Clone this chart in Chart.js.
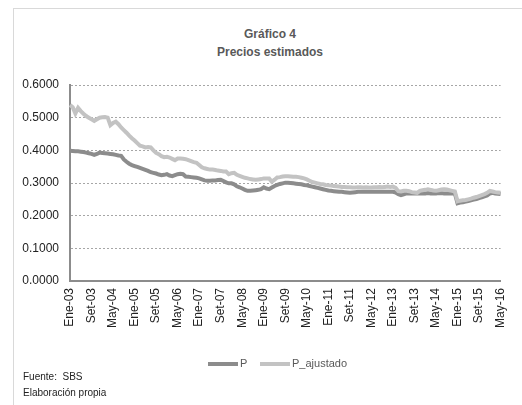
<!DOCTYPE html>
<html>
<head>
<meta charset="utf-8">
<script src="https://cdn.jsdelivr.net/npm/chart.js@4"></script>
<style>
  html, body { margin: 0; padding: 0; background: #fff; }
  body { width: 522px; height: 405px; position: relative; overflow: hidden; font-family: "Liberation Sans", Arial, sans-serif; }
  .frame { position: absolute; left: 13px; top: 8px; width: 520px; height: 400px; border-left: 1px solid #d9d9d9; border-top: 1px solid #d9d9d9; }
  .title { position: absolute; left: 170px; width: 200px; text-align: center; font-weight: bold; font-size: 12px; color: #595959; }
  .legend { position: absolute; top: 357px; font-size: 11px; color: #595959; }
  .swatch { position: absolute; top: 362px; height: 4px; width: 30px; }
  .note { position: absolute; left: 23px; font-size: 10px; color: #222; }
  #wrap { position: absolute; left: 0; top: 0; width: 522px; height: 405px; }
</style>
</head>
<body>
<div class="frame"></div>
<div class="title" style="top:27px">Gráfico 4</div>
<div class="title" style="top:45px">Precios estimados</div>
<div id="wrap"><canvas id="chart"></canvas></div>
<div class="swatch" style="left:208px;background:#8c8c8c"></div>
<div class="legend" style="left:240px">P</div>
<div class="swatch" style="left:260px;background:#c3c3c3"></div>
<div class="legend" style="left:292px">P_ajustado</div>
<div class="note" style="top:371px">Fuente:&nbsp; SBS</div>
<div class="note" style="top:387px">Elaboración propia</div>

<script>
// Precios estimados, mensual Ene-03 .. May-16

const MESES = ['Ene', 'Feb', 'Mar', 'Abr', 'May', 'Jun', 'Jul', 'Ago', 'Set', 'Oct', 'Nov', 'Dic'];
const ANIO_INICIO = 2003;
const N_MESES = 161;
const SALTO_ETIQUETA = 8; // una etiqueta cada 8 meses

const P = [
  0.399, 0.398, 0.397, 0.397, 0.396, 0.395, 0.393, 0.391, 0.389, 0.386, 0.389, 0.393,
  0.392, 0.391, 0.390, 0.389, 0.388, 0.386, 0.384, 0.383, 0.372, 0.365, 0.359, 0.355,
  0.352, 0.349, 0.346, 0.343, 0.340, 0.337, 0.333, 0.331, 0.329, 0.326, 0.324, 0.325,
  0.327, 0.323, 0.321, 0.324, 0.327, 0.328, 0.327, 0.320, 0.319, 0.318, 0.317, 0.316,
  0.314, 0.311, 0.308, 0.307, 0.307, 0.308, 0.308, 0.309, 0.310, 0.306, 0.302, 0.299,
  0.299, 0.296, 0.290, 0.287, 0.283, 0.279, 0.276, 0.276, 0.277, 0.278, 0.279, 0.281,
  0.287, 0.283, 0.281, 0.286, 0.291, 0.294, 0.297, 0.299, 0.301, 0.301, 0.300, 0.299,
  0.298, 0.297, 0.296, 0.294, 0.293, 0.291, 0.289, 0.287, 0.285, 0.283, 0.281, 0.279,
  0.277, 0.276, 0.275, 0.274, 0.273, 0.273, 0.272, 0.271, 0.270, 0.271, 0.272, 0.273,
  0.273, 0.273, 0.273, 0.273, 0.273, 0.273, 0.273, 0.273, 0.273, 0.273, 0.273, 0.273,
  0.273, 0.271, 0.266, 0.263, 0.265, 0.268, 0.268, 0.268, 0.268, 0.268, 0.268, 0.268,
  0.268, 0.269, 0.268, 0.268, 0.268, 0.269, 0.269, 0.268, 0.268, 0.268, 0.268, 0.268,
  0.238, 0.240, 0.241, 0.243, 0.245, 0.247, 0.249, 0.251, 0.254, 0.256, 0.259, 0.262,
  0.268, 0.270, 0.268, 0.267, 0.266
];

const P_AJUSTADO = [
  0.539, 0.532, 0.513, 0.530, 0.520, 0.512, 0.505, 0.500, 0.495, 0.490, 0.495, 0.500,
  0.501, 0.502, 0.500, 0.477, 0.484, 0.488, 0.480, 0.470, 0.462, 0.454, 0.445, 0.437,
  0.430, 0.422, 0.414, 0.412, 0.409, 0.410, 0.409, 0.400, 0.392, 0.388, 0.382, 0.379,
  0.380, 0.378, 0.374, 0.370, 0.375, 0.375, 0.374, 0.373, 0.370, 0.367, 0.364, 0.362,
  0.355, 0.348, 0.345, 0.343, 0.341, 0.341, 0.340, 0.338, 0.337, 0.335, 0.335, 0.327,
  0.330, 0.331, 0.325, 0.322, 0.319, 0.316, 0.314, 0.312, 0.311, 0.310, 0.311, 0.312,
  0.314, 0.314, 0.314, 0.304, 0.310, 0.317, 0.318, 0.320, 0.321, 0.321, 0.320, 0.319,
  0.319, 0.318, 0.316, 0.314, 0.311, 0.307, 0.303, 0.301, 0.299, 0.297, 0.296, 0.294,
  0.293, 0.292, 0.291, 0.290, 0.289, 0.288, 0.288, 0.287, 0.287, 0.286, 0.286, 0.287,
  0.287, 0.286, 0.287, 0.286, 0.286, 0.287, 0.287, 0.288, 0.287, 0.288, 0.289, 0.288,
  0.289, 0.285, 0.275, 0.274, 0.276, 0.276, 0.275, 0.272, 0.271, 0.270, 0.276, 0.278,
  0.279, 0.281, 0.279, 0.277, 0.276, 0.278, 0.280, 0.281, 0.280, 0.278, 0.276, 0.274,
  0.244, 0.246, 0.247, 0.248, 0.250, 0.252, 0.255, 0.257, 0.260, 0.263, 0.266, 0.270,
  0.276, 0.274, 0.272, 0.271, 0.270
];

const labels = [];
for (let i = 0; i < N_MESES; i++) {
  const anio = ANIO_INICIO + Math.floor(i / 12);
  labels.push(MESES[i % 12] + '-' + String(anio).slice(2));
}

const axisFont = { family: '"Liberation Sans", Arial, sans-serif', size: 12 };

new Chart(document.getElementById('chart'), {
  type: 'line',
  data: {
    labels,
    datasets: [
      { label: 'P', data: P, borderColor: '#8c8c8c', borderWidth: 4, pointRadius: 0, tension: 0, order: 1 },
      { label: 'P_ajustado', data: P_AJUSTADO, borderColor: '#c3c3c3', borderWidth: 4, pointRadius: 0, tension: 0, order: 0 },
    ],
  },
  options: {
    responsive: true,
    maintainAspectRatio: false,
    animation: false,
    layout: { padding: { left: 0, right: 12, top: 85, bottom: 0 } },
    plugins: { legend: { display: false }, tooltip: { enabled: false } },
    scales: {
      x: {
        offset: false,
        grid: { display: false, drawTicks: false },
        border: { display: true, color: '#8c8c8c', width: 2 },
        ticks: {
          autoSkip: false,
          maxRotation: 90,
          minRotation: 90,
          padding: 7,
          color: '#222',
          font: axisFont,
          callback: (v, i) => (i % SALTO_ETIQUETA === 0 ? labels[i] : ''),
        },
        afterFit: (s) => { s.height = 124; },
      },
      y: {
        min: 0,
        max: 0.6,
        grid: { color: '#a6a6a6', lineWidth: 1, drawTicks: false, tickBorderDash: [2, 2] },
        border: { display: true, color: '#8c8c8c', width: 2, dash: [2, 2] },
        ticks: {
          stepSize: 0.1,
          padding: 11,
          color: '#222',
          font: axisFont,
          callback: (v) => Number(v).toFixed(4),
        },
        afterFit: (s) => { s.width = 70; },
      },
    },
  },
});
</script>
</body>
</html>
